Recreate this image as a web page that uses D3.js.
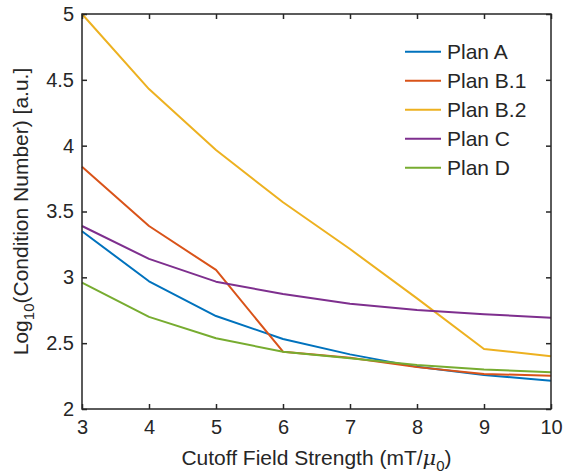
<!DOCTYPE html>
<meta charset="utf-8">
<style>
body { margin: 0; background: #fff; }
text { font-family: "Liberation Sans", Arial, sans-serif; fill: #262626; }
</style>
<body>
<div id="draw"></div>
<script src="https://cdnjs.cloudflare.com/ajax/libs/d3/7.8.5/d3.min.js"></script>
<script>

var fieldStrength = [3, 4, 5, 6, 7, 8, 9, 10];
var planA  = [3.35, 2.97, 2.706, 2.532, 2.415, 2.32, 2.258, 2.215];
var planB1 = [3.84, 3.39, 3.056, 2.435, 2.39, 2.318, 2.266, 2.253];
var planB2 = [5.0, 4.43, 3.967, 3.57, 3.215, 2.84, 2.456, 2.40];
var planC  = [3.39, 3.14, 2.967, 2.873, 2.80, 2.752, 2.72, 2.693];
var planD  = [2.96, 2.70, 2.537, 2.435, 2.385, 2.334, 2.30, 2.279];
var seriesNames = ["Plan A", "Plan B.1", "Plan B.2", "Plan C", "Plan D"];
var seriesColors = ["#0072BD", "#D95319", "#EDB120", "#7E2F8E", "#77AC30"];
var yTicks = [2, 2.5, 3, 3.5, 4, 4.5, 5];

var series = [planA, planB1, planB2, planC, planD].map(function(vals, i) {
  return { name: seriesNames[i], color: seriesColors[i],
           pts: vals.map(function(v, j) { return [fieldStrength[j], v]; }) };
});

var margin = {top: 14, right: 13, bottom: 66, left: 82},
    width = 564 - margin.left - margin.right,
    height = 475 - margin.top - margin.bottom;

var x = d3.scaleLinear().domain([3, 10]).range([0, width]);
var y = d3.scaleLinear().domain([2, 5]).range([height, 0]);

var svg = d3.select("#draw").append("svg")
    .attr("width", 564)
    .attr("height", 475)
  .append("g")
    .attr("transform", "translate(" + margin.left + "," + margin.top + ")");

// lines
var line = d3.line()
    .x(function(d) { return x(d[0]); })
    .y(function(d) { return y(d[1]); });

svg.selectAll(".series")
    .data(series)
    .enter().append("path")
    .attr("class", "series")
    .attr("d", function(d) { return line(d.pts); })
    .attr("fill", "none")
    .attr("stroke", function(d) { return d.color; })
    .attr("stroke-width", 2)
    .attr("stroke-linejoin", "round");

// axes (ticks pointing inward)
var xAxis = svg.append("g")
    .attr("transform", "translate(0," + height + ")")
    .call(d3.axisBottom(x).tickValues(fieldStrength).tickSizeInner(-5).tickSizeOuter(0).tickPadding(11).tickFormat(d3.format("d")));
var xTop = svg.append("g")
    .call(d3.axisTop(x).tickValues(fieldStrength).tickSizeInner(-5).tickSizeOuter(0).tickFormat(""));
var yAxis = svg.append("g")
    .call(d3.axisLeft(y).tickValues(yTicks).tickSizeInner(-5).tickSizeOuter(0).tickPadding(8).tickFormat(d3.format("")));
var yRight = svg.append("g")
    .attr("transform", "translate(" + width + ",0)")
    .call(d3.axisRight(y).tickValues(yTicks).tickSizeInner(-5).tickSizeOuter(0).tickFormat(""));

[xAxis, xTop, yAxis, yRight].forEach(function(a) {
  a.attr("font-size", 20).attr("font-family", null);
  a.select(".domain").remove();
  a.selectAll(".tick line").attr("stroke", "#262626").attr("stroke-width", 1.5);
  a.selectAll(".tick text").attr("fill", "#262626");
});

// box
svg.append("rect")
    .attr("width", width)
    .attr("height", height)
    .attr("fill", "none")
    .attr("stroke", "#262626")
    .attr("stroke-width", 1.5);

// axis labels
var xl = svg.append("text")
    .attr("x", width / 2)
    .attr("y", height + 56)
    .attr("text-anchor", "middle")
    .attr("font-size", 21);
xl.append("tspan").text("Cutoff Field Strength (mT/");
xl.append("tspan").text("\u03bc").style("font-style", "italic").style("font-family", "'DejaVu Serif', serif");
xl.append("tspan").text("0").attr("dy", 6).attr("font-size", 15);
xl.append("tspan").text(")").attr("dy", -6);

var yl = svg.append("text")
    .attr("transform", "translate(" + (-54) + "," + (height / 2) + ") rotate(-90)")
    .attr("text-anchor", "middle")
    .attr("font-size", 21);
yl.append("tspan").text("Log");
yl.append("tspan").text("10").attr("dy", 6).attr("font-size", 15);
yl.append("tspan").text("(Condition Number) [a.u.]").attr("dy", -6);

// legend
var legend = svg.selectAll(".legend")
    .data(series)
    .enter().append("g")
    .attr("class", "legend")
    .attr("transform", function(d, i) { return "translate(" + (405 - margin.left) + "," + (51.7 - margin.top + i * 29) + ")"; });

legend.append("line")
    .attr("x1", 0)
    .attr("x2", 36)
    .attr("stroke", function(d) { return d.color; })
    .attr("stroke-width", 2);

legend.append("text")
    .attr("x", 42)
    .attr("dy", ".35em")
    .attr("font-size", 21)
    .text(function(d) { return d.name; });

</script>
</body>
